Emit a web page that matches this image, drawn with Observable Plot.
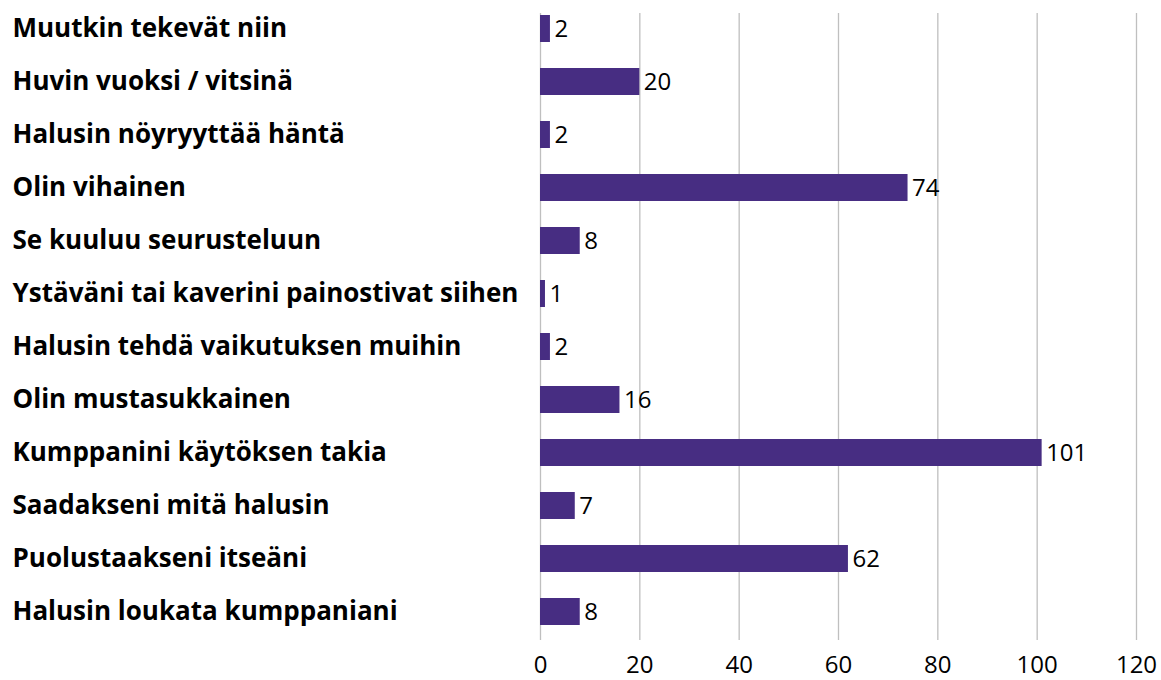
<!DOCTYPE html>
<html><head><meta charset="utf-8">
<script src="https://cdn.jsdelivr.net/npm/d3@7"></script>
<script src="https://cdn.jsdelivr.net/npm/@observablehq/plot@0.6"></script>
<style>body{margin:0;background:#fff;} svg{display:block;}</style>
</head><body><div id="chart"></div>
<script>
const categories = [
  "Muutkin tekevät niin",
  "Huvin vuoksi / vitsinä",
  "Halusin nöyryyttää häntä",
  "Olin vihainen",
  "Se kuuluu seurusteluun",
  "Ystäväni tai kaverini painostivat siihen",
  "Halusin tehdä vaikutuksen muihin",
  "Olin mustasukkainen",
  "Kumppanini käytöksen takia",
  "Saadakseni mitä halusin",
  "Puolustaakseni itseäni",
  "Halusin loukata kumppaniani"
];
const values = [2, 20, 2, 74, 8, 1, 2, 16, 101, 7, 62, 8];
const xTicks = [0, 20, 40, 60, 80, 100, 120];

const data = categories.map((c, i) => ({category: c, value: values[i]}));
const color = "#472d82";

const chart = Plot.plot({
  width: 1161,
  height: 680,
  marginLeft: 540,
  marginRight: 25,
  marginTop: 2,
  marginBottom: 42,
  style: {fontFamily: "'Open Sans', 'Noto Sans', sans-serif", background: "#fff"},
  x: {domain: [0, 120], ticks: xTicks},
  y: {domain: categories, paddingInner: 0.49, paddingOuter: 0.245, label: null},
  marks: [
    Plot.ruleX(xTicks, {x: d => d, stroke: "#bfbfbf", strokeWidth: 1.3, insetTop: 11, insetBottom: -2}),
    Plot.barX(data, {x: "value", y: "category", fill: color}),
    Plot.text(data, {x: "value", y: "category", text: d => String(d.value), textAnchor: "start", dx: 4, fontSize: 24, fill: "#000"}),
    Plot.axisX(xTicks, {tickSize: 0, tickPadding: 17, fontSize: 24, label: null, fill: "#000"}),
    Plot.axisY({tickSize: 0, textAnchor: "start", dx: -528, tickPadding: 0, fontSize: 26, fontWeight: "bold", label: null, fill: "#000"})
  ]
});
document.getElementById("chart").appendChild(chart);
</script>
</body></html>
